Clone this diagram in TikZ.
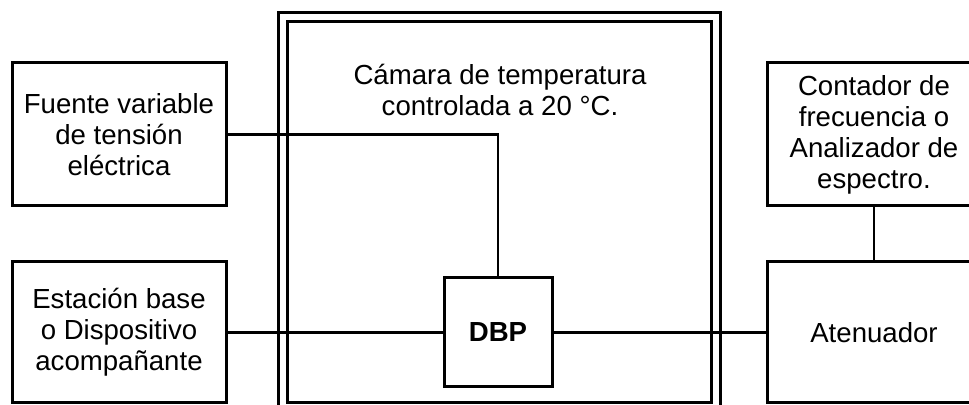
\documentclass[tikz,border=0pt]{standalone}
\usepackage{fontspec}
\setmainfont{Liberation Sans}

\tikzset{
  caja/.style={draw, line width=1.5pt, align=center, inner sep=2pt},
  conexion/.style={line width=1.3pt}
}

\begin{document}
\begin{tikzpicture}[x=0.5pt, y=-0.5pt, font=\fontsize{13.8}{15.5}\selectfont]
  % Frame of the picture
  \useasboundingbox (0,0) rectangle (969,405);
  \clip (0,0) rectangle (969,405);
  % Temperature chamber (double wall)
  \node[draw, double, line width=1.5pt, double distance=3pt,
        minimum width=216.5pt, minimum height=195pt] (camara) at (499,212.5) {};
  \node[align=center] (rotulo) at (500,90) {Cámara de temperatura\\controlada a 20 °C.};
  % Boxes
  \node[caja, minimum width=107pt, minimum height=71.5pt] (fuente) at (119,134.5)
    {Fuente variable\\de tensión\\eléctrica};
  \node[caja, minimum width=107pt, minimum height=70.5pt] (estacion) at (119,332.5)
    {Estación base\\o Dispositivo\\acompañante};
  \node[caja, minimum width=54pt, minimum height=54.5pt, font=\fontsize{13.8}{15.5}\selectfont\bfseries]
    (dbp) at (498,332.5) {DBP};
  \node[caja, minimum width=107pt, minimum height=71.5pt] (contador) at (874,134.5)
    {Contador de\\frecuencia o\\Analizador de\\espectro.};
  \node[caja, minimum width=107pt, minimum height=70.5pt] (atenuador) at (874,332.5)
    {Atenuador};
  % Connections
  \draw[conexion] (fuente.east) -| (dbp.north);
  \draw[conexion] (estacion) -- (dbp);
  \draw[conexion] (dbp) -- (atenuador);
  \draw[conexion] (contador) -- (atenuador);
\end{tikzpicture}
\end{document}
